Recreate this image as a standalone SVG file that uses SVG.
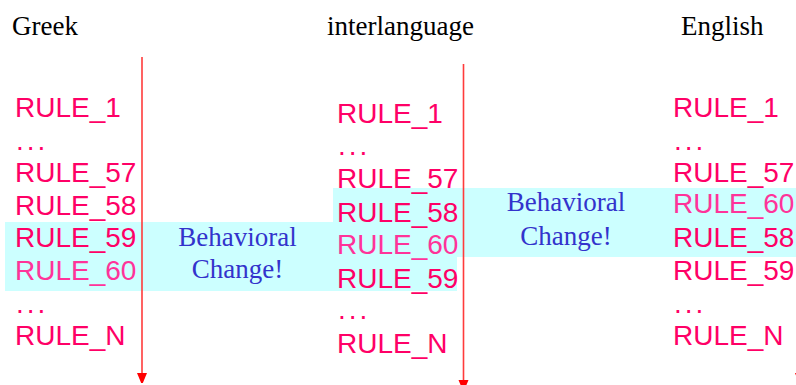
<svg xmlns="http://www.w3.org/2000/svg" width="796" height="385" viewBox="0 0 796 385">
  <style>
    .head { font-family: "Liberation Serif", "Times New Roman", serif; font-size: 27px; fill: #000; }
    .rule { font-family: "Liberation Sans", Arial, sans-serif; font-size: 28px; fill: #ff0066; }
    .moved { fill: #ff3399; }
    .dots { letter-spacing: 3px; }
    .note { font-family: "Liberation Serif", "Times New Roman", serif; font-size: 27px; fill: #3333cc; text-anchor: middle; }
    .band { fill: #ccffff; }
    .axis { stroke: #ff3b3b; stroke-width: 1.6; fill: none; }
  </style>
  <defs>
    <marker id="arrow" markerUnits="userSpaceOnUse" markerWidth="10" markerHeight="12" refX="0" refY="5" orient="auto">
      <path d="M0,0 L12,5 L0,10 z" fill="#ff0000"/>
    </marker>
  </defs>

  <rect width="796" height="385" fill="#fff"/>

  <!-- highlighted swaps -->
  <g id="bands">
    <rect class="band" x="5" y="222" width="452" height="69"/>
    <rect class="band" x="333" y="188" width="463" height="69"/>
  </g>

  <!-- column headings -->
  <g id="headings">
    <text class="head" x="12" y="35">Greek</text>
    <text class="head" x="327" y="35">interlanguage</text>
    <text class="head" x="681" y="35">English</text>
  </g>

  <!-- Greek rule order -->
  <g id="greek">
    <text class="rule" x="15" y="117">RULE_1</text>
    <text class="rule dots" x="16" y="150">...</text>
    <text class="rule" x="15" y="182">RULE_57</text>
    <text class="rule" x="15" y="215">RULE_58</text>
    <text class="rule" x="15" y="247">RULE_59</text>
    <text class="rule moved" x="15" y="280">RULE_60</text>
    <text class="rule dots" x="16" y="313">...</text>
    <text class="rule" x="15" y="345">RULE_N</text>
  </g>

  <!-- interlanguage rule order -->
  <g id="interlanguage">
    <text class="rule" x="337" y="123">RULE_1</text>
    <text class="rule dots" x="338" y="155">...</text>
    <text class="rule" x="337" y="188">RULE_57</text>
    <text class="rule" x="337" y="222">RULE_58</text>
    <text class="rule moved" x="337" y="254">RULE_60</text>
    <text class="rule" x="337" y="288">RULE_59</text>
    <text class="rule dots" x="338" y="319">...</text>
    <text class="rule" x="337" y="353">RULE_N</text>
  </g>

  <!-- English rule order -->
  <g id="english">
    <text class="rule" x="673" y="117">RULE_1</text>
    <text class="rule dots" x="674" y="150">...</text>
    <text class="rule" x="673" y="182">RULE_57</text>
    <text class="rule moved" x="673" y="213">RULE_60</text>
    <text class="rule" x="673" y="247">RULE_58</text>
    <text class="rule" x="673" y="280">RULE_59</text>
    <text class="rule dots" x="674" y="313">...</text>
    <text class="rule" x="673" y="345">RULE_N</text>
  </g>

  <!-- change labels -->
  <g id="change-left">
    <text class="note" x="237.5" y="246">Behavioral</text>
    <text class="note" x="237.5" y="278">Change!</text>
  </g>
  <g id="change-right">
    <text class="note" x="566" y="211">Behavioral</text>
    <text class="note" x="566" y="245">Change!</text>
  </g>

  <!-- time axes -->
  <g id="connectors">
    <line class="axis" x1="142" y1="57" x2="142" y2="373" marker-end="url(#arrow)"/>
    <line class="axis" x1="463.5" y1="64" x2="463.5" y2="380" marker-end="url(#arrow)"/>
    <line class="axis" x1="800" y1="64" x2="800" y2="373" marker-end="url(#arrow)"/>
  </g>
</svg>
